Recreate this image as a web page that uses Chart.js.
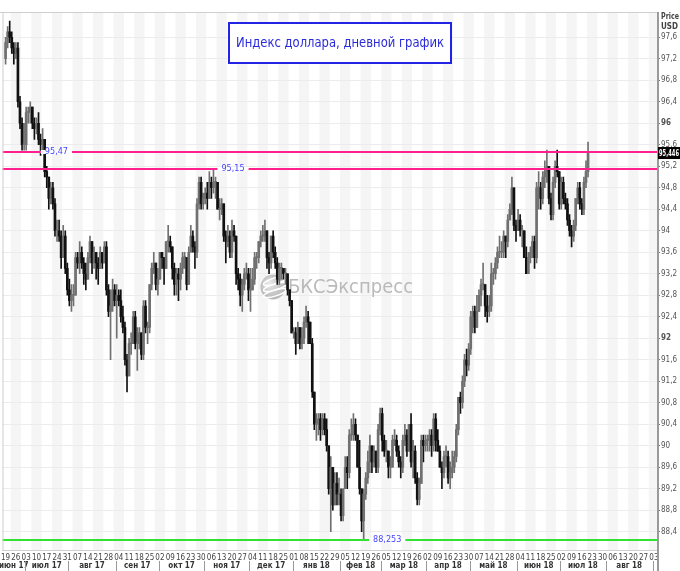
<!DOCTYPE html>
<html>
<head>
<meta charset="utf-8">
<script src="https://cdn.jsdelivr.net/npm/chart.js@4.4.0/dist/chart.umd.min.js"></script>
<style>
html, body { margin: 0; padding: 0; background: #fff; }
</style>
</head>
<body>
<canvas id="dxyChart" width="680" height="571"></canvas>
<script>
// Индекс доллара, дневные свечи 19.06.2017 - 19.07.2018 (по 5 торговых дней в неделе)

const weekLabels = ["19","26","03","10","17","24","31","07","14","21","28","04","11","18","25",
  "02","09","16","23","30","06","13","20","27","04","11","18","25","01","08","15","22","29",
  "05","12","19","26","05","12","19","26","02","09","16","23","30","07","14","21","28",
  "04","11","18","25","02","09","16","23","30","06","13","20","27","03"];

const monthLabels = ["июн 17","июл 17","авг 17","сен 17","окт 17","ноя 17","дек 17","янв 18",
  "фев 18","мар 18","апр 18","май 18","июн 18","июл 18","авг 18"];
// index of the first trading day of each month (0 = 19 June 2017), last one = 3 Sep 2018
const monthStarts = [-12, 10, 31, 54, 75, 97, 119, 140, 163, 183, 205, 226, 249, 270, 292, 315];

const yTicks = [88.4, 88.8, 89.2, 89.6, 90, 90.4, 90.8, 91.2, 91.6, 92, 92.4, 92.8, 93.2,
  93.6, 94, 94.4, 94.8, 95.2, 95.6, 96, 96.4, 96.8, 97.2, 97.6];

const opens = [
  97.2,97.5,97.7,97.6,97.4, 97.3,97.4,96.4,96.0,95.6, 95.6,96.2,96.2,96.3,96.0, 95.9,96.0,95.7,95.6,95.7,
  95.1,95.0,94.6,94.8,94.5, 94.0,94.0,93.9,93.5,93.9, 93.3,92.9,92.7,92.8,92.8, 93.5,93.4,93.6,93.4,93.2,
  93.1,93.5,93.8,93.4,93.6, 93.4,93.3,93.6,93.4,93.7, 92.9,92.5,92.6,92.9,92.7, 92.8,92.7,92.4,92.2,91.6,
  91.3,91.9,91.9,92.4,91.9, 91.9,92.1,91.7,92.6,92.2, 92.2,93.0,93.3,93.4,93.0, 93.1,93.6,93.5,93.3,93.8,
  93.8,93.7,93.3,93.0,93.2, 93.1,93.3,93.5,93.5,93.0, 93.6,93.9,93.7,93.6,94.5, 94.9,94.5,94.6,94.7,94.6,
  94.9,94.8,94.9,94.9,94.4, 94.4,94.5,93.9,93.8,93.9, 93.6,94.0,93.9,93.2,93.1, 92.8,93.0,93.2,93.2,92.9,
  92.9,93.1,93.5,93.5,93.8, 93.9,93.9,94.0,93.5,93.4, 93.9,93.6,93.4,93.1,93.3, 93.3,93.2,93.2,92.9,92.7,
  92.1,92.1,91.9,92.2,91.9, 92.0,92.3,92.4,92.3,91.9, 91.0,90.4,90.4,90.5,90.3, 90.5,90.3,90.0,89.2,89.6,
  88.9,89.3,89.1,89.1,88.7, 89.2,89.6,89.5,90.2,90.2, 90.4,90.2,89.6,89.2,88.6, 89.1,89.4,89.7,90.0,89.7,
  89.9,89.6,90.3,90.6,90.1, 89.9,89.9,89.6,89.6,90.1, 90.1,89.9,89.7,89.6,90.1, 90.2,89.9,90.4,89.7,89.9,
  89.4,89.0,89.3,90.1,90.0, 90.1,90.1,90.2,90.0,90.5, 90.1,89.9,89.6,89.5,89.8, 89.8,89.4,89.5,89.6,89.8,
  90.3,90.9,90.8,91.2,91.6, 91.5,91.8,92.4,92.5,92.2, 92.5,92.8,93.0,93.0,92.6, 92.5,92.6,93.2,93.2,93.4,
  93.6,93.6,93.6,93.9,93.8, 94.2,94.4,94.8,94.1,94.0, 94.2,94.0,94.0,93.5,93.2, 93.5,93.6,93.8,93.5,94.8,
  94.8,94.6,95.0,95.1,95.2, 94.6,94.3,94.9,95.2,95.1, 94.5,94.9,94.6,94.5,94.2, 94.0,93.9,94.1,94.6,94.8,
  94.5,94.4,94.9,95.1
];
const highs = [
  97.6,97.8,97.9,97.7,97.5, 97.5,97.5,96.5,96.1,96.0, 96.3,96.3,96.4,96.3,96.1, 96.1,96.2,95.8,95.9,95.7,
  95.2,95.0,94.9,94.9,94.6, 94.2,94.2,94.0,94.1,94.0, 93.4,93.1,93.0,93.0,93.6, 93.6,93.8,93.7,93.5,93.4,
  93.6,93.9,93.8,93.7,93.6, 93.5,93.7,93.6,93.8,93.8, 93.0,92.9,93.1,93.0,93.0, 92.9,92.9,92.6,92.3,91.7,
  92.0,92.1,92.5,92.5,92.2, 92.2,92.1,92.7,92.7,92.3, 93.0,93.4,93.6,93.4,93.3, 93.6,93.6,93.5,93.8,94.1,
  93.9,93.7,93.4,93.3,93.3, 93.4,93.6,93.6,93.5,93.7, 94.1,94.0,93.8,94.6,95.0, 95.0,94.7,94.8,94.9,95.1,
  95.0,95.15,95.0,94.9,94.6, 94.6,94.5,94.0,94.1,94.0, 94.2,94.1,93.9,93.3,93.2, 93.1,93.3,93.4,93.3,93.3,
  93.3,93.6,93.6,93.8,94.0, 94.1,94.2,94.0,93.6,93.9, 94.0,93.7,93.5,93.4,93.4, 93.3,93.3,93.2,92.9,92.7,
  92.2,92.2,92.3,92.2,92.2, 92.4,92.6,92.5,92.3,92.0, 91.0,90.6,90.6,90.6,90.6, 90.6,90.5,90.0,89.8,89.6,
  89.5,89.5,89.4,89.2,89.2, 89.8,89.8,90.3,90.5,90.6, 90.5,90.2,90.1,89.2,89.2, 89.5,89.9,90.2,90.0,90.0,
  89.9,90.4,90.7,90.7,90.2, 90.1,89.9,89.8,90.2,90.3, 90.2,90.0,89.8,90.2,90.4, 90.3,90.4,90.6,90.1,90.0,
  89.5,89.4,90.2,90.2,90.2, 90.2,90.3,90.3,90.6,90.6, 90.3,90.0,89.7,89.9,90.0, 89.9,89.7,89.9,89.9,90.4,
  90.9,91.0,91.3,91.7,91.8, 91.9,92.5,92.6,92.6,92.8, 92.9,93.1,93.4,93.0,92.8, 92.8,93.4,93.3,93.5,93.7,
  93.9,93.8,94.0,93.9,94.3, 94.5,95.0,94.8,94.2,94.4, 94.3,94.1,94.0,93.7,93.6, 93.7,93.9,93.9,94.9,95.1,
  94.9,95.1,95.3,95.5,95.2, 94.7,95.0,95.3,95.5,95.1, 95.0,95.0,94.7,94.6,94.3, 94.1,94.2,94.6,94.9,94.9,
  94.6,95.0,95.3,95.65
];
const lows = [
  97.1,97.4,97.5,97.3,97.1, 97.2,96.3,95.9,95.5,95.5, 95.5,96.0,96.0,95.9,95.7, 95.8,95.6,95.4,95.5,95.0,
  94.8,94.4,94.5,94.4,93.9, 93.8,93.8,93.3,93.5,93.2, 92.8,92.6,92.5,92.6,92.8, 93.3,93.2,93.3,93.0,92.9,
  93.1,93.4,93.2,93.3,93.1, 93.0,93.3,93.3,93.4,92.8, 92.4,91.6,92.5,92.6,92.0, 92.6,92.3,92.1,91.5,91.0,
  91.3,91.7,91.9,91.8,91.4, 91.8,91.6,91.6,92.1,91.9, 92.1,92.9,93.2,92.9,92.8, 93.1,93.3,93.0,93.3,93.6,
  93.6,93.1,92.8,92.8,92.7, 92.9,93.2,93.3,92.9,93.0, 93.6,93.6,93.3,93.5,94.4, 94.4,94.4,94.5,94.4,94.6,
  94.6,94.7,94.6,94.4,94.2, 94.3,93.8,93.4,93.7,93.5, 93.5,93.8,93.0,92.9,92.6, 92.5,92.9,93.1,92.7,92.5,
  92.9,93.0,93.3,93.4,93.7, 93.8,93.8,93.3,93.2,93.3, 93.5,93.3,93.0,93.0,93.1, 93.1,93.0,92.8,92.6,92.1,
  92.0,91.7,91.9,91.8,91.8, 91.9,92.2,91.9,91.9,90.9, 90.3,90.1,90.2,90.1,90.2, 90.2,89.9,89.1,88.4,88.8,
  88.9,88.9,88.9,88.6,88.6, 89.2,89.2,89.4,90.1,90.1, 90.1,89.6,89.1,88.4,88.253, 89.0,89.3,89.5,89.5,89.6,
  89.5,89.5,90.2,89.9,89.8, 89.7,89.4,89.4,89.6,90.0, 89.8,89.6,89.4,89.5,90.0, 89.8,89.9,89.6,89.4,89.3,
  88.9,88.9,89.3,89.7,89.9, 89.9,89.9,89.8,89.9,89.9, 89.9,89.6,89.2,89.4,89.6, 89.3,89.2,89.4,89.5,89.7,
  90.2,90.6,90.7,91.1,91.3, 91.4,91.7,92.1,92.1,92.2, 92.5,92.6,92.9,92.4,92.3, 92.4,92.5,93.0,93.1,93.3,
  93.5,93.5,93.5,93.5,93.7, 94.2,94.3,94.0,93.8,94.0, 93.9,93.7,93.5,93.2,93.2, 93.4,93.5,93.3,93.4,94.4,
  94.4,94.5,94.8,94.9,94.5, 94.2,94.2,94.8,95.0,94.4, 94.4,94.5,94.4,94.1,93.9, 93.7,93.8,94.0,94.5,94.4,
  94.3,94.3,94.8,95.0
];
const closes = [
  97.5,97.7,97.6,97.4,97.3, 97.4,96.4,96.0,95.6,95.6, 96.2,96.2,96.3,96.0,95.9, 96.0,95.7,95.6,95.7,95.1,
  95.0,94.6,94.8,94.5,94.0, 94.0,93.9,93.5,93.9,93.3, 92.9,92.7,92.8,92.8,93.5, 93.4,93.6,93.4,93.2,93.1,
  93.5,93.8,93.4,93.6,93.4, 93.3,93.6,93.4,93.7,92.9, 92.5,92.6,92.9,92.7,92.8, 92.7,92.4,92.2,91.6,91.3,
  91.9,91.9,92.4,91.9,91.9, 92.1,91.7,92.6,92.2,92.2, 93.0,93.3,93.4,93.0,93.1, 93.6,93.5,93.3,93.8,93.8,
  93.7,93.3,93.0,93.2,93.1, 93.3,93.5,93.5,93.0,93.6, 93.9,93.7,93.6,94.5,94.9, 94.5,94.6,94.7,94.6,94.9,
  94.8,94.9,94.9,94.4,94.4, 94.5,93.9,93.8,93.9,93.6, 94.0,93.9,93.2,93.1,92.8, 93.0,93.2,93.2,92.9,92.9,
  93.1,93.5,93.5,93.8,93.9, 93.9,94.0,93.5,93.4,93.9, 93.6,93.4,93.1,93.3,93.3, 93.2,93.2,92.9,92.7,92.1,
  92.1,91.9,92.2,91.9,92.0, 92.3,92.4,92.3,91.9,91.0, 90.4,90.4,90.5,90.3,90.5, 90.3,90.0,89.2,89.6,88.9,
  89.3,89.1,89.1,88.7,89.2, 89.6,89.5,90.2,90.2,90.4, 90.2,89.6,89.2,88.6,89.1, 89.4,89.7,90.0,89.7,89.9,
  89.6,90.3,90.6,90.1,89.9, 89.9,89.6,89.6,90.1,90.1, 89.9,89.7,89.6,90.1,90.2, 89.9,90.4,89.7,89.9,89.4,
  89.0,89.3,90.1,90.0,90.1, 90.1,90.2,90.0,90.5,90.1, 89.9,89.6,89.5,89.8,89.8, 89.4,89.5,89.6,89.8,90.3,
  90.9,90.8,91.2,91.6,91.5, 91.8,92.4,92.5,92.2,92.5, 92.8,93.0,93.0,92.6,92.5, 92.6,93.2,93.2,93.4,93.6,
  93.6,93.6,93.9,93.8,94.2, 94.4,94.8,94.1,94.0,94.2, 94.0,94.0,93.5,93.2,93.5, 93.6,93.8,93.5,94.8,94.8,
  94.6,95.0,95.1,95.2,94.6, 94.3,94.9,95.2,95.1,94.5, 94.9,94.6,94.5,94.2,94.0, 93.9,94.1,94.6,94.8,94.5,
  94.4,94.9,95.1,95.446
];

// horizontal levels drawn on the chart
const levelValues = [95.47, 95.15, 88.253];
const levelText = ["95,47", "95,15", "88,253"];

const levelStyle = {
  colors: ["#ff1f8f", "#ff1f8f", "#33e033"],
  labelAt: [24.7, 110.5, 185.4]
};

const FONT = "'DejaVu Sans Condensed', 'DejaVu Sans', sans-serif";
const UP = "#707070";
const DOWN = "#111111";

function candleColor(ctx) {
  const i = ctx.dataIndex;
  return closes[i] >= opens[i] ? UP : DOWN;
}

const wickData = highs.map((h, i) => ({ x: i, y: [lows[i], h] }));
const bodyData = opens.map((o, i) => ({ x: i, y: [o, closes[i]] }));

// background: weekly stripes, watermark
const backPlugin = {
  id: "back",
  beforeDraw(chart) {
    const { ctx, chartArea: a, scales: { x } } = chart;
    ctx.save();
    ctx.fillStyle = "#fff";
    ctx.fillRect(0, 0, chart.width, chart.height);
    ctx.fillStyle = "#f5f5f5";
    for (let w = 0; w < weekLabels.length; w++) {
      if (w % 2 === 0) continue;
      const x0 = Math.max(a.left, x.getPixelForValue(w * 5 - 2.5));
      const x1 = Math.min(a.right, x.getPixelForValue(w * 5 + 2.5));
      if (x1 > x0) ctx.fillRect(x0, a.top, x1 - x0, a.bottom - a.top);
    }
    ctx.restore();
  },
  beforeDatasetsDraw(chart) {
    const { ctx } = chart;
    ctx.save();
    // watermark
    const cx = 273, cy = 287;
    const g = ctx.createRadialGradient(cx - 4, cy - 4, 2, cx, cy, 14);
    g.addColorStop(0, "#e6e6e6");
    g.addColorStop(1, "#b0b0b0");
    ctx.fillStyle = g;
    ctx.beginPath();
    ctx.arc(cx, cy, 12.5, 0, Math.PI * 2);
    ctx.fill();
    ctx.strokeStyle = "#fff";
    ctx.lineWidth = 1.5;
    for (let k = -1; k <= 1; k++) {
      ctx.beginPath();
      ctx.ellipse(cx + 2, cy + k * 6, 12, 3, -0.3, 0, Math.PI * 2);
      ctx.stroke();
    }
    ctx.fillStyle = "#bababa";
    ctx.font = "20px " + FONT;
    ctx.textBaseline = "middle";
    ctx.fillText("БКСЭкспресс", 288, 288, 130);
    ctx.restore();
  }
};

// levels, title, price box, month row
const frontPlugin = {
  id: "front",
  afterDatasetsDraw(chart) {
    const { ctx, chartArea: a, scales: { x, y } } = chart;
    ctx.save();
    ctx.font = "9px " + FONT;
    ctx.textAlign = "center";
    ctx.textBaseline = "middle";
    levelValues.forEach((v, i) => {
      const py = Math.round(y.getPixelForValue(v));
      ctx.strokeStyle = levelStyle.colors[i];
      ctx.lineWidth = 2;
      ctx.beginPath();
      ctx.moveTo(a.left, py);
      ctx.lineTo(a.right, py);
      ctx.stroke();
      const lx = x.getPixelForValue(levelStyle.labelAt[i]);
      const tw = ctx.measureText(levelText[i]).width;
      ctx.fillStyle = "#fff";
      ctx.fillRect(lx - tw / 2 - 4, py - 2, tw + 8, 4);
      ctx.fillStyle = "#4646ff";
      ctx.fillText(levelText[i], lx, py);
    });
    ctx.restore();
  },
  afterDraw(chart) {
    const { ctx, chartArea: a, scales: { x, y } } = chart;
    ctx.save();

    // frame
    ctx.strokeStyle = "#cfcfcf";
    ctx.lineWidth = 1;
    ctx.beginPath();
    ctx.moveTo(0, a.top + 0.5);
    ctx.lineTo(a.right, a.top + 0.5);
    ctx.moveTo(a.left + 0.5, a.top);
    ctx.lineTo(a.left + 0.5, a.bottom);
    ctx.stroke();
    ctx.strokeStyle = "#9a9a9a";
    ctx.lineWidth = 2;
    ctx.beginPath();
    ctx.moveTo(a.right + 1, a.top);
    ctx.lineTo(a.right + 1, chart.height);
    ctx.stroke();

    // title
    ctx.fillStyle = "#fff";
    ctx.fillRect(229, 23, 222, 40);
    ctx.strokeStyle = "#2323e6";
    ctx.lineWidth = 2;
    ctx.strokeRect(229, 23, 222, 40);
    ctx.fillStyle = "#2b2bdc";
    ctx.font = "14px " + FONT;
    ctx.textAlign = "center";
    ctx.textBaseline = "middle";
    ctx.fillText("Индекс доллара, дневной график", 340, 43, 208);

    // axis caption
    ctx.fillStyle = "#444";
    ctx.font = "bold 8px " + FONT;
    ctx.textAlign = "left";
    ctx.fillText("Price", 661, 17, 18);
    ctx.fillText("USD", 661, 27, 18);

    // last price box
    const last = closes[closes.length - 1];
    const py = y.getPixelForValue(last);
    ctx.fillStyle = "#000";
    ctx.fillRect(a.right + 1, py - 6, chart.width - a.right - 1, 12);
    ctx.fillStyle = "#fff";
    ctx.font = "bold 8px " + FONT;
    ctx.fillText(String(last).replace(".", ","), a.right + 2, py + 0.5, chart.width - a.right - 3);

    // month row
    ctx.font = "bold 8px " + FONT;
    ctx.textAlign = "center";
    ctx.strokeStyle = "#999";
    ctx.lineWidth = 1;
    for (let i = 0; i < monthLabels.length; i++) {
      const x0 = Math.max(a.left, x.getPixelForValue(monthStarts[i] - 0.5));
      const x1 = Math.min(a.right, x.getPixelForValue(monthStarts[i + 1] - 0.5));
      if (i > 0) {
        ctx.beginPath();
        ctx.moveTo(Math.round(x0) + 0.5, 561);
        ctx.lineTo(Math.round(x0) + 0.5, 571);
        ctx.stroke();
      }
      ctx.fillStyle = "#333";
      ctx.fillText(monthLabels[i], (x0 + x1) / 2, 566);
    }
    ctx.beginPath();
    const xe = Math.round(x.getPixelForValue(monthStarts[monthStarts.length - 1] - 0.5)) + 0.5;
    ctx.moveTo(xe, 561);
    ctx.lineTo(xe, 571);
    ctx.stroke();
    ctx.restore();
  }
};

new Chart(document.getElementById("dxyChart").getContext("2d"), {
  type: "bar",
  data: {
    datasets: [
      {
        label: "wick",
        data: wickData,
        backgroundColor: candleColor,
        barThickness: 1,
        grouped: false,
        order: 2
      },
      {
        label: "body",
        data: bodyData,
        backgroundColor: candleColor,
        barThickness: 2,
        minBarLength: 1,
        grouped: false,
        order: 1
      }
    ]
  },
  options: {
    responsive: false,
    animation: false,
    layout: { padding: { top: 12, left: 1, right: 0, bottom: 0 } },
    plugins: { legend: { display: false }, tooltip: { enabled: false } },
    scales: {
      x: {
        type: "linear",
        offset: false,
        min: -1.5,
        max: 316.5,
        afterBuildTicks: s => { s.ticks = weekLabels.map((_, w) => ({ value: w * 5 })); },
        afterFit: s => { s.height = 21; },
        grid: { display: true, drawOnChartArea: false, drawTicks: true, tickLength: 2, color: "rgba(0,0,0,0)" },
        border: { display: true, color: "#d0d0d0" },
        ticks: {
          autoSkip: false,
          maxRotation: 0,
          padding: 1,
          color: "#444",
          font: { family: FONT, size: 8 },
          callback: (v, i) => weekLabels[i]
        }
      },
      y: {
        position: "right",
        min: 88.06,
        max: 98.07,
        afterBuildTicks: s => { s.ticks = yTicks.map(v => ({ value: v })); },
        afterFit: s => { s.width = 23; },
        grid: { color: "#ececec", tickColor: "#777", tickLength: 3 },
        border: { display: false },
        ticks: {
          padding: 1,
          color: "#555",
          font: c => ({ family: FONT, size: 8, weight: (c.tick && c.tick.value % 4 === 0) ? "bold" : "normal" }),
          callback: v => String(Math.round(v * 10) / 10).replace(".", ",")
        }
      }
    }
  },
  plugins: [backPlugin, frontPlugin]
});
</script>
</body>
</html>
